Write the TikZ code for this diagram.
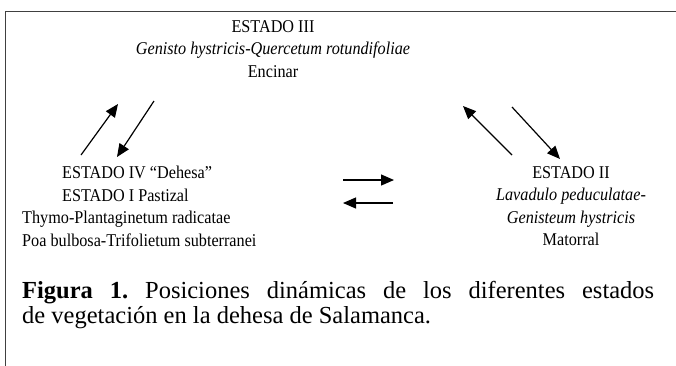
\documentclass[tikz,border=0pt]{standalone}
\usepackage{fontspec}
\setmainfont[FakeStretch=0.9]{Liberation Serif}
\newfontfamily\piefont{Liberation Serif}
\usetikzlibrary{arrows.meta}

\tikzset{flecha/.style={-{Triangle[length=13pt,width=11pt]},line width=1.2pt}}

\begin{document}
\begin{tikzpicture}[x=1pt,y=-1pt,
    every node/.style={font=\fontsize{18}{22.5}\selectfont,inner sep=0pt}]
    \useasboundingbox (0,0) rectangle (676,365);
    % marco
    \draw[line width=1pt,black!75] (677,11) -- (5.5,11) -- (5.5,366);
    % estados
    \node[align=center,anchor=north] (encinar) at (273,20) {ESTADO III\\\textit{Genisto hystricis-Quercetum rotundifoliae}\\Encinar};
    \node[align=left,anchor=north west] (dehesa) at (22,166) {\hspace*{40pt}ESTADO IV “Dehesa”\\\hspace*{40pt}ESTADO I Pastizal\\Thymo-Plantaginetum radicatae\\Poa bulbosa-Trifolietum subterranei};
    \node[align=center,anchor=north] (matorral) at (571,166) {ESTADO II\\\textit{Lavadulo peduculatae-}\\\textit{Genisteum hystricis}\\Matorral};
    % extremos de las flechas
    \coordinate (a1) at (81,155);  \coordinate (b1) at (118,104);
    \coordinate (a2) at (154,101); \coordinate (b2) at (117,157);
    \coordinate (a3) at (512,155); \coordinate (b3) at (463,106);
    \coordinate (a4) at (512,107); \coordinate (b4) at (560,159);
    \coordinate (a5) at (343,180); \coordinate (b5) at (394,180);
    \coordinate (a6) at (393,203); \coordinate (b6) at (343,203);
    \foreach \i in {1,...,6}
        \draw[flecha] (a\i) -- (b\i);
    % pie de figura
    \node[anchor=north west,text width=632pt,align=justify,font=\piefont\fontsize{24.5}{25}\selectfont] (pie) at (22,281)
        {\frenchspacing\textbf{Figura 1.} Posiciones dinámicas de los diferentes estados\linebreak de vegetación en la dehesa de Salamanca.};
\end{tikzpicture}
\end{document}
